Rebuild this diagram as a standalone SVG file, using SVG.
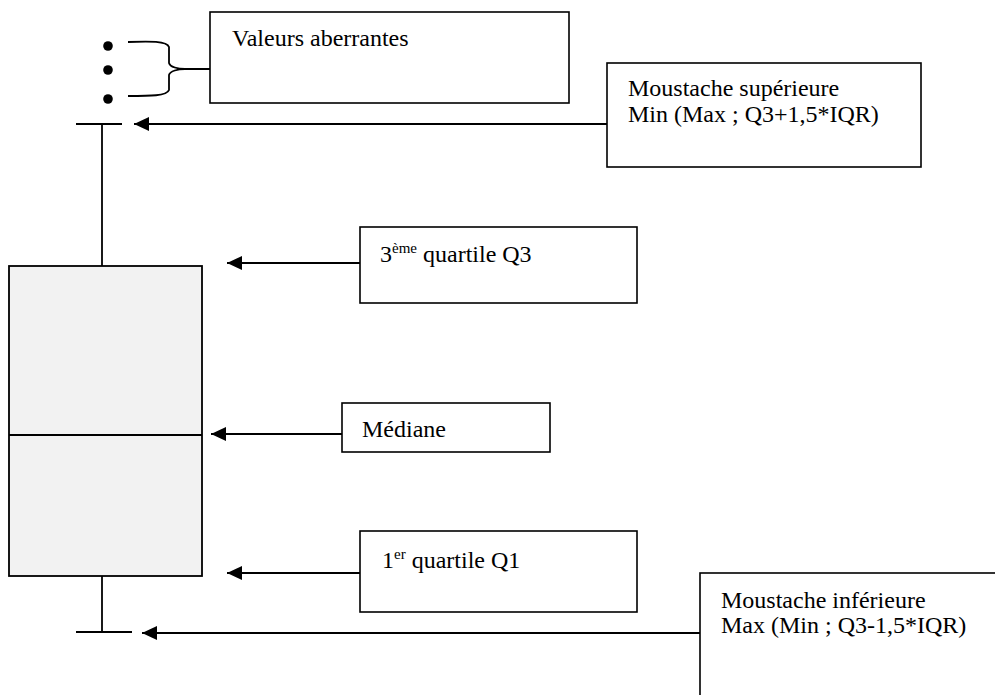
<svg xmlns="http://www.w3.org/2000/svg" width="995" height="695" viewBox="0 0 995 695">
<defs>
<style>
.box{fill:#ffffff;stroke:#000;stroke-width:1.6}
.t{font-family:"Liberation Serif","Times New Roman",serif;font-size:24px;fill:#000}
.sup{font-size:15px}
.ln{stroke:#000;stroke-width:1.8;fill:none}
.arr{stroke:#000;stroke-width:1.8;fill:none;marker-end:url(#ah)}
</style>
<marker id="ah" markerWidth="16" markerHeight="14" refX="15" refY="7" orient="auto" markerUnits="userSpaceOnUse">
<path d="M0,0 L15,7 L0,14 Z" fill="#000"/>
</marker>
</defs>
<rect width="995" height="695" fill="#fff"/>

<g id="boxplot">
<line class="ln" x1="102" y1="124" x2="102" y2="266"/>
<line class="ln" x1="76" y1="124" x2="122" y2="124"/>
<rect x="9" y="266" width="193" height="310" fill="#f2f2f2" stroke="#000" stroke-width="1.8"/>
<line class="ln" x1="9" y1="435" x2="202" y2="435"/>
<line class="ln" x1="102" y1="576" x2="102" y2="632"/>
<line class="ln" x1="76" y1="632" x2="132" y2="632"/>
</g>

<g id="outliers">
<circle cx="108" cy="46" r="4.8" fill="#000"/>
<circle cx="108" cy="70" r="4.8" fill="#000"/>
<circle cx="108" cy="99" r="4.8" fill="#000"/>
</g>

<g id="node-valeurs">
<rect class="box" x="210" y="12" width="359" height="91"/>
<text class="t" x="232" y="46">Valeurs aberrantes</text>
</g>

<g id="node-moustache-sup">
<rect class="box" x="607" y="63" width="314" height="104"/>
<text class="t" x="628" y="96">Moustache supérieure</text>
<text class="t" x="628" y="122">Min (Max ; Q3+1,5*IQR)</text>
</g>

<g id="node-q3">
<rect class="box" x="360" y="227" width="277" height="76"/>
<text class="t" x="380" y="262">3<tspan class="sup" dy="-9">ème</tspan><tspan dy="9"> quartile Q3</tspan></text>
</g>

<g id="node-mediane">
<rect class="box" x="342" y="403" width="208" height="49"/>
<text class="t" x="362" y="437">Médiane</text>
</g>

<g id="node-q1">
<rect class="box" x="360" y="531" width="277" height="81"/>
<text class="t" x="382" y="568">1<tspan class="sup" dy="-9">er</tspan><tspan dy="9"> quartile Q1</tspan></text>
</g>

<g id="node-moustache-inf">
<rect class="box" x="700" y="573" width="300" height="140"/>
<text class="t" x="721" y="608">Moustache inférieure</text>
<text class="t" x="721" y="633">Max (Min ; Q3-1,5*IQR)</text>
</g>

<g id="connectors">
<path class="ln" d="M128,42 C150,41 167,41 169,47 L169,63 C170,67 178,69 185,69 L210,69 M185,69 C178,69 170,71 169,75 L169,90 C167,96 150,96 128,96"/>
<line class="arr" x1="607" y1="124" x2="134" y2="124"/>
<line class="arr" x1="360" y1="263" x2="227" y2="263"/>
<line class="arr" x1="342" y1="434" x2="211" y2="434"/>
<line class="arr" x1="360" y1="573" x2="227" y2="573"/>
<line class="arr" x1="700" y1="633" x2="142" y2="633"/>
</g>
</svg>
